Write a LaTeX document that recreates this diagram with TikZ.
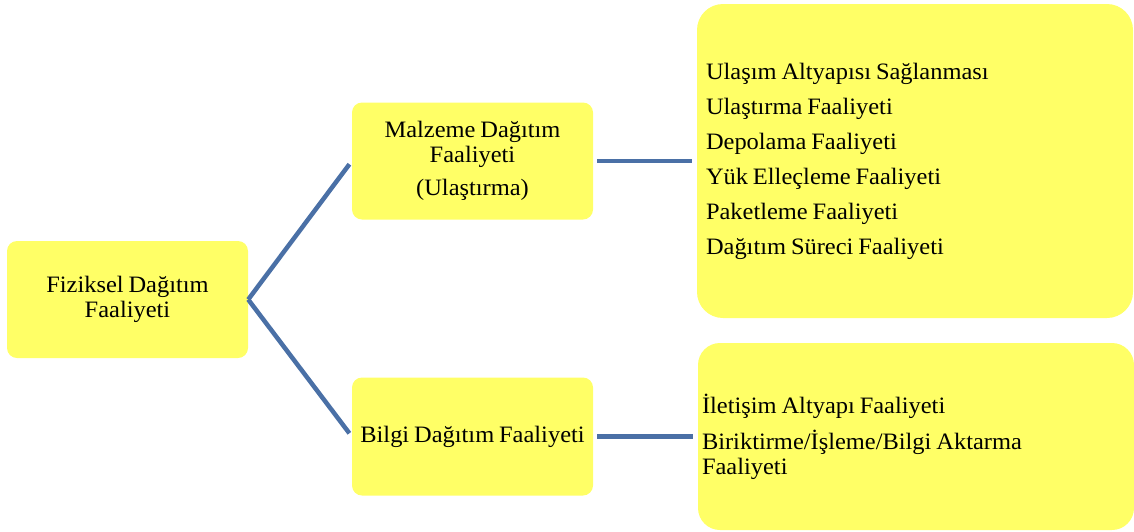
\documentclass[tikz,border=0pt]{standalone}
\usepackage{fontspec}
\setmainfont{Liberation Serif}[FakeStretch=1.04,WordSpace=0.8]
\definecolor{boxyellow}{HTML}{FFFF66}
\definecolor{linkblue}{HTML}{4A70A6}
\begin{document}
\begin{tikzpicture}[x=1pt,y=-1pt,
  box/.style={fill=boxyellow,draw=none,rounded corners=10pt,inner sep=0pt,
    font=\fontsize{23.5}{25}\selectfont,align=center},
  bigbox/.style={fill=boxyellow,draw=none,rounded corners=26pt,inner sep=0pt,
    font=\fontsize{23.5}{25}\selectfont,align=flush left},
  link/.style={draw=linkblue,line width=4.5pt}]
\useasboundingbox (0,0) rectangle (1134,531);
\node[box,minimum width=241pt,minimum height=117pt] (fd) at (127.5,299.5)
  {Fiziksel Dağıtım\\Faaliyeti};
\node[box,minimum width=241pt,minimum height=117pt] (md) at (472.5,161)
  {Malzeme Dağıtım\\Faaliyeti\\[8pt](Ulaştırma)};
\node[box,minimum width=241pt,minimum height=118pt] (bd) at (472.5,436.5)
  {Bilgi Dağıtım Faaliyeti};
\node[bigbox,font=\fontsize{23.5}{35}\selectfont,minimum width=436pt,minimum height=314pt,text width=418pt] (ml) at (915,161)
  {Ulaşım Altyapısı Sağlanması\\Ulaştırma Faaliyeti\\Depolama Faaliyeti\\Yük Elleçleme Faaliyeti\\Paketleme Faaliyeti\\Dağıtım Süreci Faaliyeti};
\node[bigbox,rounded corners=22pt,minimum width=436pt,minimum height=187pt,text width=428pt] (bl) at (916,436.5)
  {İletişim Altyapı Faaliyeti\\[11pt]Biriktirme/İşleme/Bilgi Aktarma\\Faaliyeti};
\draw[link,shorten >=4pt] (fd.east) -- (md.west);
\draw[link,shorten >=4pt] (fd.east) -- (bd.west);
\draw[link,shorten <=4pt,shorten >=5pt] (md.east) -- (ml.west);
\draw[link,shorten <=4pt,shorten >=5pt] (bd.east) -- (bl.west);
\end{tikzpicture}
\end{document}
